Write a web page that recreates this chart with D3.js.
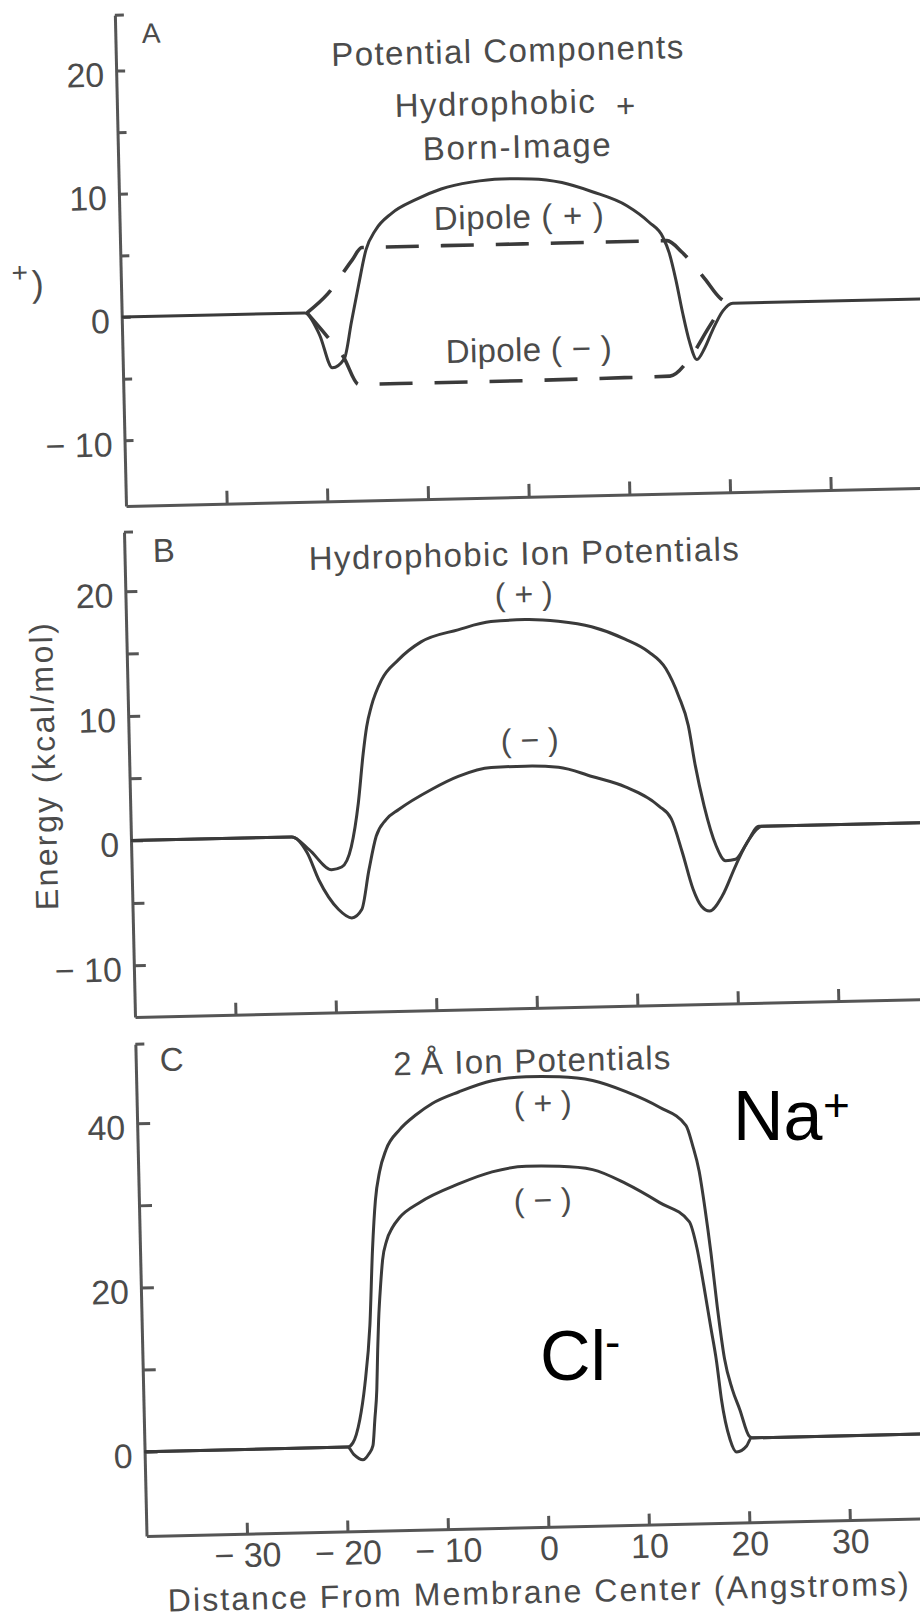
<!DOCTYPE html>
<html>
<head>
<meta charset="utf-8">
<script src="https://cdn.jsdelivr.net/npm/d3@7"></script>
<style>
  body { margin: 0; background: #fff; }
  svg { display: block; font-family: "Liberation Sans", Arial, Helvetica, sans-serif; }
</style>
</head>
<body>
<script>
var width = 920, height = 1617;
var tilt = -1.3;   // the scanned page sits slightly rotated

// ticks
var xTicks = [-30, -20, -10, 0, 10, 20, 30];
var yTicksAB = [-10, -5, 0, 5, 10, 15, 20];
var yLabelsAB = [-10, 0, 10, 20];
var yTicksC = [0, 10, 20, 30, 40];
var yLabelsC = [0, 20, 40];

// A: potential components  [distance (A), energy (kcal/mol)]
var aHydroBorn = [[-40,0],[-21.8,0],[-20.4,-1.8],[-19.2,-4.5],[-18.0,-3.8],[-17.2,-0.8],[-16.4,2.2],
  [-15.6,5.0],[-14.6,6.6],[-13.0,7.9],[-10.5,9.0],[-8.0,9.8],[-5.0,10.3],[-2.0,10.5],[1.0,10.45],
  [4.0,10.1],[7.0,9.3],[10.4,8.1],[12.6,6.7],[13.9,5.5],[14.5,4.2],[15.1,2.0],[15.7,-0.7],
  [16.3,-3.0],[17.0,-4.5],[17.8,-3.6],[18.6,-2.2],[19.7,-0.6],[20.7,0],[40,0]];
var aDipolePlus = [[-21.6,0],[-19.5,1.5],[-17.0,4.2],[-16.0,5.2],[-8,5.2],[0,5.2],[8,5.2],
  [14.3,5.2],[15.8,4.2],[18.0,2.0],[19.5,0.4],[20.5,0]];
var aDipoleMinus = [[-21.6,0],[-19.6,-2.0],[-18.1,-3.6],[-16.6,-5.9],[-8,-5.9],[0,-5.9],[8,-5.85],
  [14.3,-5.8],[16.2,-4.5],[18.2,-2.0],[19.8,0]];

// B: hydrophobic ion potentials
var bPlus = [[-40,0],[-24,0],[-22.3,-1.05],[-20.1,-2.7],[-19.1,-2.5],[-18.1,-0.9],[-17.3,2.6],
  [-16.7,6.6],[-16.3,8.7],[-15.8,10.3],[-14.7,12.45],[-13.0,14.0],[-10.7,15.4],[-7.0,16.3],
  [-3.7,16.9],[-0.3,17.0],[3.0,16.8],[6.3,16.3],[9.6,15.25],[11.9,14.2],[13.6,12.8],[14.8,10.6],
  [15.7,8.2],[16.3,5.0],[17.1,1.7],[18.2,-1.5],[19.1,-2.7],[20.1,-2.6],[21.2,-1.4],[22.5,0],[40,0]];
var bMinus = [[-40,0],[-24,0],[-22.5,-1.3],[-21.4,-3.5],[-19.5,-5.9],[-18.2,-6.6],[-17.2,-5.95],
  [-16.4,-2.8],[-15.6,-0.1],[-14.6,1.2],[-13.3,2.0],[-10.0,3.55],[-7.3,4.55],[-4.0,5.2],[-0.6,5.25],
  [2.7,5.1],[6.0,4.3],[9.3,3.4],[12.6,1.8],[13.8,0.75],[14.8,-1.9],[15.8,-4.9],[16.6,-6.3],
  [17.4,-6.7],[18.7,-5.5],[20.1,-3.1],[21.5,-1.0],[22.8,0],[40,0]];

// C: 2 A ion potentials
var cPlus = [[-40,0],[-19.8,0],[-19.26,0.5],[-18.52,3.3],[-17.94,7.5],[-17.3,14.8],[-16.87,24.0],
  [-16.47,30.0],[-16.0,33.4],[-15.3,36.1],[-13.9,38.5],[-12.2,40.3],[-10.6,41.6],[-7.9,42.95],
  [-4.6,44.2],[-1.2,44.6],[2.1,44.5],[5.4,43.95],[8.7,42.5],[12.0,40.5],[14.6,38.2],[15.2,35.8],
  [15.8,32.6],[16.3,28.0],[16.8,22.5],[17.3,16.0],[17.9,9.7],[18.6,6.0],[19.3,3.5],[20.2,0.2],
  [20.6,0],[40,0]];
var cMinus = [[-40,0],[-19.8,0],[-19.2,-0.9],[-18.3,-1.6],[-17.7,-0.9],[-17.27,0.1],[-17.02,3.3],
  [-16.76,6.9],[-16.58,11.8],[-16.42,15.4],[-16.14,19.7],[-15.89,22.7],[-15.45,25.0],[-14.84,26.6],
  [-14.1,27.8],[-12.1,29.55],[-8.1,31.75],[-4.8,33.1],[-1.4,33.7],[1.9,33.6],[5.2,33.1],[8.5,31.3],
  [11.8,28.9],[14.7,26.5],[15.4,23.3],[16.0,18.7],[16.6,13.6],[17.1,9.4],[17.5,4.8],[18.26,-0.1],
  [18.9,-1.67],[19.9,-0.97],[20.4,0],[40,0]];

var ink = "#3a3a3a", axisInk = "#555", textInk = "#4b4b4b";

var svg = d3.select("body").append("svg")
    .attr("width", width)
    .attr("height", height);
svg.append("rect").attr("width", width).attr("height", height).attr("fill", "#fff");

function minusFmt(d) { return d < 0 ? "\u2212 " + Math.abs(d) : String(d); }

var panels = [
  {x0: 126, y0: 506, h: 491, kx: 10.07, yDomain: [-15.33, 24.5], yTicks: yTicksAB, yLabels: yLabelsAB,
   yTick: 9, xTick: 13, xLabels: false,
   lines: [{data: aHydroBorn}, {data: aDipolePlus, dash: "33,22"}, {data: aDipoleMinus, dash: "33,22"}]},
  {x0: 135, y0: 1017, h: 485, kx: 10.05, yDomain: [-14.15, 24.74], yTicks: yTicksAB, yLabels: yLabelsAB,
   yTick: 12, xTick: 12, xLabels: false,
   lines: [{data: bPlus}, {data: bMinus}]},
  {x0: 146.5, y0: 1536, h: 492, kx: 10.05, yDomain: [-10.27, 49.64], yTicks: yTicksC, yLabels: yLabelsC,
   yTick: 13, xTick: 11, xLabels: true,
   lines: [{data: cPlus}, {data: cMinus}]}
];

panels.forEach(function(p) {
    var g = svg.append("g")
        .attr("transform", "translate(" + p.x0 + "," + p.y0 + ") rotate(" + tilt + ")");
    var x = d3.scaleLinear().domain([-40, 40]).range([0, 80 * p.kx]);
    var y = d3.scaleLinear().domain(p.yDomain).range([0, -p.h]);

    // y axis, ticks point inward, labels outside
    var ya = g.append("g").call(d3.axisLeft(y)
        .tickValues(p.yTicks)
        .tickSizeInner(-p.yTick)
        .tickSizeOuter(0)
        .tickPadding(12)
        .tickFormat(function(d) { return p.yLabels.indexOf(d) >= 0 ? minusFmt(d) : ""; }));
    // small stub at the top of the axis
    g.append("line").attr("x1", 0).attr("x2", 9).attr("y1", -p.h).attr("y2", -p.h);

    var xa = g.append("g").call(d3.axisBottom(x)
        .tickValues(xTicks)
        .tickSizeInner(-p.xTick)
        .tickSizeOuter(0)
        .tickPadding(9)
        .tickFormat(function(d) { return p.xLabels ? minusFmt(d) : ""; }));

    g.selectAll("path.domain, .tick line, g > line")
        .attr("stroke", axisInk)
        .attr("stroke-width", 3);
    g.selectAll(".tick text")
        .attr("fill", textInk)
        .attr("font-size", 34)
        .attr("font-family", "Liberation Sans, Arial, sans-serif");
    ya.selectAll(".tick text").attr("dy", "0.45em");

    var line = d3.line()
        .x(function(d) { return x(d[0]); })
        .y(function(d) { return y(d[1]); })
        .curve(d3.curveMonotoneX);

    p.lines.forEach(function(s) {
        g.append("path")
            .datum(s.data)
            .attr("d", line)
            .attr("fill", "none")
            .attr("stroke", ink)
            .attr("stroke-width", s.dash ? 3.6 : 3)
            .attr("stroke-dasharray", s.dash || null)
            .attr("stroke-linejoin", "round");
    });
});

function label(x, y, s, size, anchor, len) {
    var t = svg.append("text")
        .attr("x", x).attr("y", y)
        .attr("font-size", size)
        .attr("text-anchor", anchor || "middle")
        .attr("fill", textInk)
        .attr("transform", "rotate(" + tilt + "," + x + "," + y + ")")
        .text(s);
    if (len) t.attr("textLength", len).attr("lengthAdjust", "spacing");
    return t;
}

// panel A text
label(142, 43, "A", 28, "start");
label(507.5, 62, "Potential Components", 33, "middle", 352);
label(395, 117, "Hydrophobic", 33, "start", 200);
label(626, 117, "+", 33, "middle");
label(517, 158, "Born-Image", 33, "middle", 188);
label(519, 228, "Dipole ( + )", 33, "middle", 170);
label(529, 361, "Dipole ( \u2212 )", 33, "middle", 166);
label(20, 282, "+", 28, "middle");
label(44, 296, ")", 36, "end");

// panel B text
label(153, 562, "B", 33, "start");
label(524, 565, "Hydrophobic Ion Potentials", 33, "middle", 430);
label(524, 605, "( + )", 32, "middle");
label(530, 751, "( \u2212 )", 32, "middle");
svg.append("text")
    .attr("transform", "translate(55,766.5) rotate(" + (-90 + tilt) + ")")
    .attr("text-anchor", "middle")
    .attr("font-size", 32)
    .attr("fill", textInk)
    .attr("textLength", 287)
    .attr("lengthAdjust", "spacing")
    .text("Energy (kcal/mol)");

// panel C text
label(160, 1071, "C", 33, "start");
label(532, 1072, "2\u2009\u00c5 Ion Potentials", 33, "middle", 277);
label(543, 1114, "( + )", 32, "middle");
label(543, 1211, "( \u2212 )", 32, "middle");
label(538.5, 1603, "Distance From Membrane Center (Angstroms)", 32, "middle", 741);

// overlaid ion names
svg.append("text").attr("x", 733).attr("y", 1140).attr("font-size", 70).attr("fill", "#000").text("Na");
svg.append("text").attr("x", 823).attr("y", 1121).attr("font-size", 46).attr("fill", "#000").text("+");
svg.append("text").attr("x", 540).attr("y", 1380).attr("font-size", 70).attr("fill", "#000").text("Cl");
svg.append("text").attr("x", 605).attr("y", 1358).attr("font-size", 46).attr("fill", "#000").text("-");
</script>
</body>
</html>
